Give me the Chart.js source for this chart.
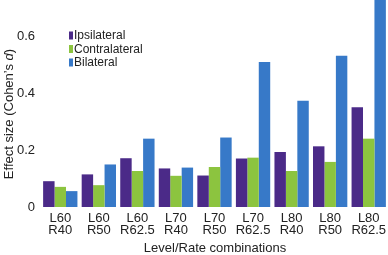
<!DOCTYPE html>
<html>
<head>
<meta charset="utf-8">
<script src="https://cdn.jsdelivr.net/npm/chart.js@4"></script>
<style>
  html, body { margin: 0; padding: 0; background: #fff; }
  #wrap { width: 388px; height: 255px; position: relative; }
</style>
</head>
<body>
<div id="wrap"><canvas id="chart"></canvas></div>
<script>
const categories = [
    ['L60', 'R40'], ['L60', 'R50'], ['L60', 'R62.5'],
    ['L70', 'R40'], ['L70', 'R50'], ['L70', 'R62.5'],
    ['L80', 'R40'], ['L80', 'R50'], ['L80', 'R62.5']
];
const ipsilateral   = [0.091, 0.115, 0.172, 0.136, 0.111, 0.171, 0.194, 0.214, 0.352];
const contralateral = [0.071, 0.077, 0.127, 0.110, 0.141, 0.174, 0.127, 0.159, 0.241];
const bilateral     = [0.056, 0.150, 0.241, 0.139, 0.245, 0.511, 0.375, 0.533, 0.800];
const yTicks = [0, 0.2, 0.4, 0.6];

const FONT = 'Liberation Sans, Arial, Helvetica, sans-serif';
const colors = { ipsi: '#4b2a88', contra: '#8cc43f', bilat: '#3779c8' };

// legend + axis titles drawn by hand to match the figure
const extrasPlugin = {
    id: 'extras',
    afterDraw(chart) {
        const ctx = chart.ctx;
        ctx.save();
        ctx.textBaseline = 'middle';
        ctx.font = '12px ' + FONT;
        chart.data.datasets.forEach((ds, i) => {
            const y = 35.5 + i * 13.5;
            ctx.fillStyle = ds.backgroundColor;
            ctx.fillRect(69, y - 4, 4, 8);
            ctx.fillStyle = '#222';
            ctx.textAlign = 'left';
            ctx.fillText(ds.label, 74, y + 0.5);
        });

        // x title
        ctx.font = '13px ' + FONT;
        ctx.textAlign = 'center';
        ctx.fillText('Level/Rate combinations', 215, 248);

        // y title with italic d
        ctx.translate(9, 114);
        ctx.rotate(-Math.PI / 2);
        const a = 'Effect size (Cohen\u2019s ';
        const b = 'd';
        const c = ')';
        ctx.font = '13px ' + FONT;
        const wa = ctx.measureText(a).width;
        const wc = ctx.measureText(c).width;
        ctx.font = 'italic 13px ' + FONT;
        const wb = ctx.measureText(b).width;
        let x = -(wa + wb + wc) / 2;
        ctx.textAlign = 'left';
        ctx.font = '13px ' + FONT;
        ctx.fillText(a, x, 0);
        x += wa;
        ctx.font = 'italic 13px ' + FONT;
        ctx.fillText(b, x, 0);
        x += wb;
        ctx.font = '13px ' + FONT;
        ctx.fillText(c, x, 0);
        ctx.restore();
    }
};

new Chart(document.getElementById('chart').getContext('2d'), {
    type: 'bar',
    data: {
        labels: categories,
        datasets: [
            { label: 'Ipsilateral', data: ipsilateral, backgroundColor: colors.ipsi },
            { label: 'Contralateral', data: contralateral, backgroundColor: colors.contra },
            { label: 'Bilateral', data: bilateral, backgroundColor: colors.bilat }
        ]
    },
    options: {
        responsive: true,
        maintainAspectRatio: false,
        animation: false,
        layout: { padding: 0 },
        datasets: { bar: { categoryPercentage: 0.89, barPercentage: 1.0 } },
        scales: {
            x: {
                grid: { display: false, drawTicks: false },
                border: { display: false },
                ticks: {
                    color: '#222',
                    font: { family: FONT, size: 13, lineHeight: 0.88 },
                    padding: 6,
                    maxRotation: 0,
                    autoSkip: false
                },
                afterFit(scale) {
                    scale.height = 48;
                    scale.paddingLeft = 0;
                    scale.paddingRight = 0;
                }
            },
            y: {
                min: 0,
                max: 0.73,
                grid: { display: false, drawTicks: false },
                border: { display: false },
                ticks: {
                    color: '#222',
                    font: { family: FONT, size: 13 },
                    padding: 6,
                    includeBounds: false,
                    callback: v => (v === 0 ? '0' : v.toFixed(1))
                },
                afterBuildTicks(scale) {
                    scale.ticks = yTicks.map(v => ({ value: v }));
                },
                afterFit(scale) {
                    scale.width = 41;
                    scale.paddingTop = 0;
                    scale.paddingBottom = 0;
                }
            }
        },
        plugins: {
            legend: { display: false },
            tooltip: { enabled: false }
        }
    },
    plugins: [extrasPlugin]
});
</script>
</body>
</html>
